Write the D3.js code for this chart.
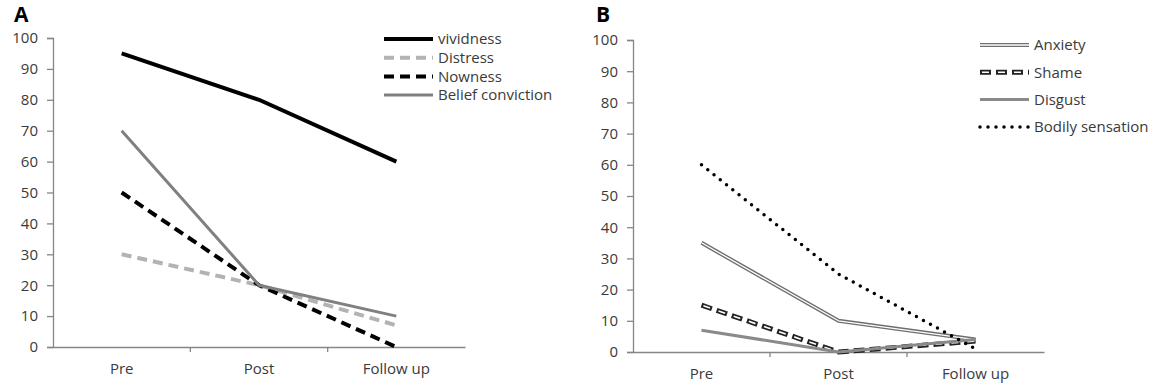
<!DOCTYPE html>
<html>
<head>
<meta charset="utf-8">
<script src="https://cdn.jsdelivr.net/npm/d3@7"></script>
<style>
  body { margin: 0; background: #fff; }
  text { font-family: "Open Sans", sans-serif; }
</style>
</head>
<body>
<script>
// Set up size
var width = 1158;
var height = 391;

// categories shared by both panels
var phases = ["Pre", "Post", "Follow up"];
var yTicks = [0, 10, 20, 30, 40, 50, 60, 70, 80, 90, 100];

// panel A series
var vividness = [95, 80, 60];
var distress = [30, 20, 7];
var nowness = [50, 20, 0];
var beliefConviction = [70, 20, 10];

// panel B series
var anxiety = [35, 10, 4];
var shame = [15, 0, 3.5];
var disgust = [7, 0, 4];
var bodilySensation = [60, 25, 1];

var svg = d3.select("body").append("svg")
  .attr("width", width)
  .attr("height", height);

// line styles per series (layers drawn in order)
var panelA = {
  label: "A", labelX: 14, left: 53, right: 465, top: 38, bottom: 347,
  legendX: 382, legendY: 39, legendStep: 18.7,
  series: [
    {name: "vividness", values: vividness, layers: [{stroke: "#000", width: 4}]},
    {name: "Distress", values: distress, layers: [{stroke: "#b3b3b3", width: 4, dash: "10,6"}]},
    {name: "Nowness", values: nowness, layers: [{stroke: "#000", width: 4, dash: "10,6"}]},
    {name: "Belief conviction", values: beliefConviction, layers: [{stroke: "#808080", width: 3}]}
  ]
};

var panelB = {
  label: "B", labelX: 596, left: 633, right: 1044, top: 40, bottom: 352,
  legendX: 978, legendY: 45, legendStep: 27.3,
  series: [
    {name: "Anxiety", values: anxiety, layers: [{stroke: "#6e6e6e", width: 4}, {stroke: "#fff", width: 1.3}]},
    {name: "Shame", values: shame, layers: [{stroke: "#222", width: 5, dash: "11,5"}, {stroke: "#fff", width: 1.6, dash: "7,9", offset: -2}]},
    {name: "Disgust", values: disgust, layers: [{stroke: "#8a8a8a", width: 3}]},
    {name: "Bodily sensation", values: bodilySensation, layers: [{stroke: "#000", width: 3.5, dash: "0,8", cap: "round"}]}
  ]
};

drawPanel(panelA);
drawPanel(panelB);

function drawPanel(p) {
  var g = svg.append("g");

  var x = d3.scaleBand().domain(phases).range([p.left, p.right]);
  var y = d3.scaleLinear().domain([0, 100]).range([p.bottom, p.top]);

  // panel letter
  g.append("text")
    .attr("x", p.labelX)
    .attr("y", 22)
    .attr("font-family", "Liberation Sans, Arial, sans-serif")
    .attr("font-weight", "bold")
    .attr("font-size", "21px")
    .attr("fill", "#000")
    .text(p.label);

  // y axis
  var yAxis = g.append("g")
    .attr("transform", "translate(" + p.left + ",0)")
    .call(d3.axisLeft(y).tickValues(yTicks).tickSize(6).tickPadding(9));
  yAxis.select(".domain").attr("stroke", "#868686").attr("stroke-width", 1.3);
  yAxis.selectAll(".tick line").attr("stroke", "#868686").attr("stroke-width", 1.3);
  yAxis.selectAll(".tick text")
    .attr("font-family", "Open Sans, sans-serif")
    .attr("font-size", "15px")
    .attr("fill", "#3a3a3a");

  // x axis, ticks at category boundaries
  var xAxis = g.append("g")
    .attr("transform", "translate(0," + p.bottom + ")")
    .call(d3.axisBottom(x).tickSize(0).tickPadding(16).tickSizeOuter(0));
  xAxis.select(".domain").attr("stroke", "#868686").attr("stroke-width", 1.3);
  xAxis.selectAll(".tick text")
    .attr("font-family", "Open Sans, sans-serif")
    .attr("font-size", "15px")
    .attr("fill", "#3a3a3a");

  g.selectAll(".xbound")
    .data(phases.slice(1))
    .enter().append("line")
    .attr("class", "xbound")
    .attr("x1", function(d) { return x(d); })
    .attr("x2", function(d) { return x(d); })
    .attr("y1", p.bottom)
    .attr("y2", p.bottom + 5)
    .attr("stroke", "#868686")
    .attr("stroke-width", 1.3);

  var line = d3.line()
    .x(function(d, i) { return x(phases[i]) + x.bandwidth() / 2; })
    .y(function(d) { return y(d); });

  // series lines
  p.series.forEach(function(s) {
    s.layers.forEach(function(l) {
      g.append("path")
        .datum(s.values)
        .attr("d", line)
        .attr("fill", "none")
        .attr("stroke", l.stroke)
        .attr("stroke-width", l.width)
        .attr("stroke-dasharray", l.dash || null)
        .attr("stroke-dashoffset", l.offset || 0)
        .attr("stroke-linecap", l.cap || "butt")
        .attr("stroke-linejoin", "round");
    });
  });

  // legend
  var legend = g.selectAll(".legend")
    .data(p.series)
    .enter().append("g")
    .attr("transform", function(d, i) {
      return "translate(" + p.legendX + "," + (p.legendY + i * p.legendStep) + ")";
    });

  legend.each(function(s) {
    var lg = d3.select(this);
    s.layers.forEach(function(l) {
      lg.append("line")
        .attr("x1", 2).attr("x2", 51)
        .attr("y1", 0).attr("y2", 0)
        .attr("stroke", l.stroke)
        .attr("stroke-width", l.width)
        .attr("stroke-dasharray", l.dash || null)
        .attr("stroke-dashoffset", l.offset || 0)
        .attr("stroke-linecap", l.cap || "butt");
    });
    lg.append("text")
      .attr("x", 56)
      .attr("y", 0)
      .attr("dy", "0.35em")
      .attr("font-size", "15px")
      .attr("fill", "#3a3a3a")
      .text(s.name);
  });
}
</script>
</body>
</html>
